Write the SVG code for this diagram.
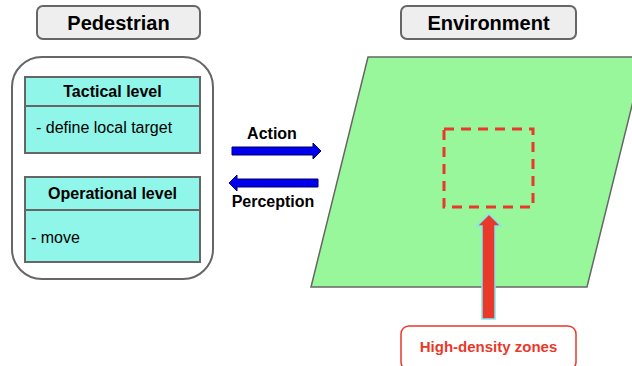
<svg xmlns="http://www.w3.org/2000/svg" width="632" height="366" viewBox="0 0 632 366">
<style>
text{font-family:"Liberation Sans",Arial,sans-serif;fill:#000}
.title{font-size:20px;font-weight:bold;text-anchor:middle}
.hdr{font-size:16px;font-weight:bold;text-anchor:middle}
.body{font-size:16px}
.lbl{font-size:16px;font-weight:bold;text-anchor:middle}
.tag{fill:#eeeeee;stroke:#666;stroke-width:2}
.level{fill:#8ff6e9;stroke:#666;stroke-width:2}
.blue{fill:#0000ee;stroke:#000066;stroke-width:1}
</style>
<rect width="632" height="366" fill="#fff"/>
<g id="pedestrian-label">
<rect class="tag" x="37" y="6" width="163" height="33" rx="6"/>
<text class="title" x="118.5" y="30">Pedestrian</text>
</g>
<g id="pedestrian">
<rect x="12" y="57" width="201" height="222" rx="30" fill="#fff" stroke="#666" stroke-width="2"/>
</g>
<g id="tactical">
<rect class="level" x="25" y="77" width="175" height="76"/>
<line x1="25" y1="106" x2="200" y2="106" stroke="#666" stroke-width="2"/>
<text class="hdr" x="112.5" y="97">Tactical level</text>
<text class="body" x="36" y="133">- define local target</text>
</g>
<g id="operational">
<rect class="level" x="25" y="177" width="175" height="85"/>
<line x1="25" y1="210" x2="200" y2="210" stroke="#666" stroke-width="2"/>
<text class="hdr" x="112.5" y="199">Operational level</text>
<text class="body" x="31" y="243">- move</text>
</g>
<g id="environment-label">
<rect class="tag" x="401" y="6" width="175" height="33" rx="6"/>
<text class="title" x="488.5" y="30">Environment</text>
</g>
<g id="environment">
<polygon points="368,57 644,57 587,287 311,287" fill="#99f79b" stroke="#666" stroke-width="1.5"/>
<rect x="444" y="129" width="89" height="78" fill="none" stroke="#e8392b" stroke-width="3" stroke-dasharray="10,7"/>
</g>
<g id="high-density">
<rect x="401" y="326" width="175" height="44" rx="8" fill="#fff" stroke="#e8392b" stroke-width="1.5"/>
<text x="488.5" y="352" style="font-size:15px;font-weight:bold;text-anchor:middle;fill:#e8392b">High-density zones</text>
</g>
<g id="connectors">
<polygon class="blue" points="232,147 313,147 313,143 321,151 313,159 313,155 232,155"/>
<text class="lbl" x="272" y="139">Action</text>
<polygon class="blue" points="318,179 237,179 237,175 229,183 237,191 237,187 318,187"/>
<text class="lbl" x="273" y="207">Perception</text>
<polygon points="482,319 482,226 477,226 489,214 501,226 495,226 495,319" fill="#e8392b" stroke="#80e8f2" stroke-width="1.5"/>
</g>
</svg>
